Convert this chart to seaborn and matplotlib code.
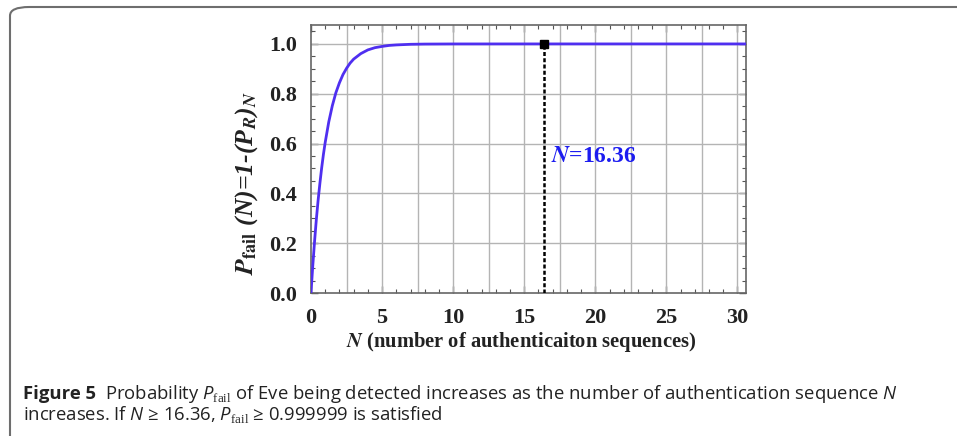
import numpy as np
import pandas as pd
import matplotlib
matplotlib.use("Agg")
import matplotlib.pyplot as plt
from matplotlib.patches import FancyBboxPatch
from matplotlib.ticker import MultipleLocator
import seaborn as sns

# ---- data ----
n_values = [0, 0.125, 0.25, 0.375, 0.5, 0.625, 0.75, 0.875, 1.0, 1.25, 1.5, 1.75, 2.0,
            2.25, 2.5, 2.75, 3.0, 3.5, 4.0, 4.5, 5.0, 5.5, 6.0, 7.0, 8.0, 10.0,
            15.0, 20.0, 25.0, 30.7]
p_fail = [0.0, 0.11, 0.207, 0.295, 0.372, 0.44, 0.502, 0.557, 0.605, 0.687, 0.752,
          0.804, 0.844, 0.877, 0.902, 0.923, 0.939, 0.961, 0.976, 0.985, 0.990,
          0.994, 0.996, 0.9985, 0.9994, 0.9999, 1.0, 1.0, 1.0, 1.0]
threshold_n = 16.36
threshold_p = 1.0
x_ticks = [0, 5, 10, 15, 20, 25, 30]
y_ticks = [0.0, 0.2, 0.4, 0.6, 0.8, 1.0]
annotation = "$\\mathbfit{N}$=16.36"
x_label = "$\\mathbfit{N}$ (number of authenticaiton sequences)"
y_label = ("$\\mathbfit{P}_{\\mathbf{fail}}$ (N)=1-(P$_{\\mathbfit{R}}$)$_{\\mathbfit{N}}$")
caption_line1 = ("Probability $\\mathit{P}_{\\mathrm{fail}}$ of Eve being detected increases "
                 "as the number of authentication sequence $\\mathit{N}$")
caption_line2 = ("increases. If $\\mathit{N}$ \u2265 16.36, $\\mathit{P}_{\\mathrm{fail}}$ "
                 "\u2265 0.999999 is satisfied")

df = pd.DataFrame({"N": n_values, "P": p_fail})

sns.set_theme(style="ticks")
plt.rcParams["font.family"] = ["Liberation Serif", "DejaVu Serif"]
plt.rcParams["mathtext.fontset"] = "custom"
plt.rcParams["mathtext.rm"] = "Liberation Serif"
plt.rcParams["mathtext.it"] = "Open Sans:italic"
plt.rcParams["mathtext.bf"] = "Open Sans:bold"

W, H = 957, 436
fig = plt.figure(figsize=(W / 100, H / 100), dpi=100)
fig.patch.set_facecolor("white")

# rounded frame
frame = FancyBboxPatch((10 / W, -0.2), 1.2, 1 - 7 / H + 0.2,
                       boxstyle="round,pad=0,rounding_size=0.02",
                       transform=fig.transFigure, fill=False,
                       edgecolor="#6e6e6e", linewidth=1.5, clip_on=False)
fig.patches.append(frame)

ax = fig.add_axes([311 / W, 1 - 293 / H, (746 - 311) / W, (293 - 25) / H])

sns.lineplot(data=df, x="N", y="P", ax=ax, color="#4f2ff0", linewidth=2.0,
             zorder=3)
ax.plot([threshold_n, threshold_n], [0, threshold_p], color="black",
        linestyle=(0, (1.6, 0.9)), linewidth=1.8, zorder=4)
ax.plot([threshold_n], [threshold_p], marker="s", color="black",
        markersize=6, zorder=5)

ax.set_xlim(0, 30.6)
ax.set_ylim(0, 1.076)
ax.set_xticks(x_ticks)
ax.set_yticks(y_ticks)
ax.set_yticklabels([f"{v:.1f}" for v in y_ticks])
ax.xaxis.set_minor_locator(MultipleLocator(1))
ax.yaxis.set_minor_locator(MultipleLocator(0.05))

for v in np.arange(2.5, 30.6, 2.5):
    ax.axvline(v, color="#b4b4b4", linewidth=1.0, zorder=1)
for v in y_ticks[1:]:
    ax.axhline(v, color="#b4b4b4", linewidth=1.0, zorder=1)

ax.tick_params(which="both", direction="in", top=True, right=True,
               color="#555555")
ax.tick_params(which="major", length=5, width=1.0)
ax.tick_params(which="minor", length=3, width=0.8)
ax.tick_params(axis="both", labelsize=16, labelcolor="#222222")
ax.tick_params(axis="x", pad=11)
ax.tick_params(axis="y", pad=10)
for lab in ax.get_xticklabels() + ax.get_yticklabels():
    lab.set_fontweight("bold")
for s in ax.spines.values():
    s.set_color("#666666")
    s.set_linewidth(1.2)

ax.set_xlabel(x_label, fontsize=14.8, fontweight="bold", color="#222222",
              math_fontfamily="stix", va="center", ha="center")
ax.xaxis.set_label_coords(0.483, -0.183)
ax.set_ylabel(y_label, fontsize=18.5, fontweight="bold", fontstyle="italic",
              color="#222222", math_fontfamily="stix", va="center", ha="center")
ax.yaxis.set_label_coords(-0.147, 0.41)

ax.text(16.85, 0.55, annotation, fontsize=17, fontweight="bold",
        color="#1c1cf0", va="center", ha="left", math_fontfamily="stix")

# caption
cap_fs = 13.3
cap_y1 = 1 - 394 / H
cap_y2 = 1 - 414 / H
t_bold = fig.text(23 / W, cap_y1, "Figure 5", fontsize=cap_fs, fontweight="bold",
                  family="Open Sans", va="center", ha="left", color="#222222")
fig.canvas.draw()
bb = t_bold.get_window_extent()
fig.text((bb.x1 + 9) / W, cap_y1, caption_line1, fontsize=cap_fs,
         family="Open Sans", va="center", ha="left", color="#222222",
         math_fontfamily="custom")
fig.text(23 / W, cap_y2, caption_line2, fontsize=cap_fs,
         family="Open Sans", va="center", ha="left", color="#222222",
         math_fontfamily="custom")

fig.savefig("out.png", dpi=100, facecolor="white")
